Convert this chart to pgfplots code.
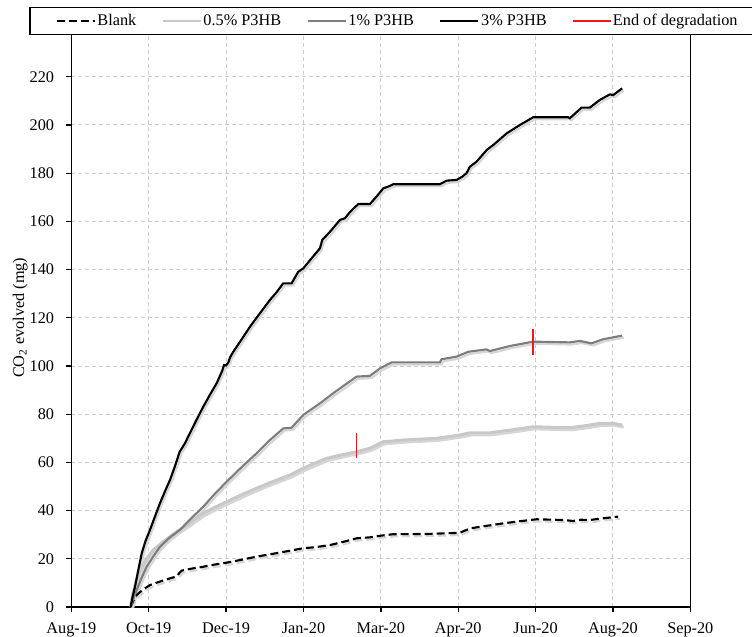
\documentclass[border=0pt]{standalone}
\usepackage{fontspec}
\setmainfont{Liberation Serif}
\usepackage{pgfplots}
\usepackage{pgfplotstable}
\pgfplotsset{compat=1.18}
\definecolor{lg}{RGB}{200,200,200}
\definecolor{mg}{RGB}{125,125,125}
\definecolor{gridc}{RGB}{205,205,205}
\definecolor{shad}{RGB}{214,214,214}
\definecolor{endred}{RGB}{235,25,25}

% x in axis-tick units (0 = Aug-19 tick, 1 = Oct-19 tick, ..., 8 = Sep-20 tick)
\pgfplotstableread{
x y
0.767 0
0.80 2.5
0.845 5
0.93 7.3
1.017 9.1
1.15 10.6
1.275 11.9
1.353 12.6
1.40 14.2
1.426 15.1
1.55 15.9
1.705 16.7
1.85 17.6
2.008 18.4
2.2 19.6
2.395 20.9
2.7 22.6
2.998 24.4
3.15 24.8
3.343 25.7
3.5 26.9
3.687 28.5
3.86 28.9
4.0 29.6
4.16 30.2
4.6 30.3
5.022 30.8
5.151 32.6
5.35 33.6
5.581 34.7
5.8 35.6
6.013 36.4
6.357 36.1
6.486 35.7
6.58 36.2
6.701 36.1
6.873 36.8
7.067 37.5
}\blank

\pgfplotstableread{
x y
0.767 0
0.79 5
0.83 10
0.888 15.4
0.97 20
1.06 23.7
1.17 26.7
1.275 29.2
1.38 31.7
1.49 34
1.6 36.5
1.705 38.9
1.85 41.3
2.008 43.7
2.2 46.6
2.395 49.3
2.6 52
2.826 54.8
2.998 57.6
3.15 59.7
3.30 61.7
3.5 63.2
3.687 64.4
3.859 65.9
4.031 68.6
4.117 68.8
4.29 69.3
4.721 70
5.022 71.4
5.151 72.3
5.41 72.3
5.668 73.4
5.969 74.8
6.2 74.6
6.443 74.4
6.615 75.1
6.83 76.2
7.003 76.2
7.119 75.5
}\halfp

\pgfplotstableread{
x y
0.767 0
0.80 3.5
0.845 7
0.90 11.5
0.974 16.7
1.06 21
1.146 25
1.27 28.8
1.404 32
1.55 36.8
1.705 41.6
1.85 46.8
2.008 52
2.2 58
2.395 63.8
2.55 68.8
2.739 74.1
2.847 74.4
2.998 79.7
3.213 84.5
3.385 88.7
3.55 92.5
3.687 95.6
3.859 95.9
3.988 99
4.14 101.5
4.763 101.5
4.785 102.8
4.98 103.9
5.13 105.9
5.367 106.9
5.41 106.2
5.668 108.3
5.969 110.1
6.443 109.8
6.572 110.4
6.723 109.4
6.873 111.1
7.119 112.6
}\onep

\pgfplotstableread{
x y
0.767 0
0.79 4
0.823 8.4
0.86 14.5
0.91 22.3
0.96 27.5
1.017 32
1.08 37.5
1.145 43
1.21 48
1.275 52.7
1.34 58.5
1.40 64.4
1.47 68
1.53 72
1.62 77.8
1.705 83.1
1.79 88
1.878 92.8
1.95 98
1.973 100.4
2.0 100.2
2.03 101.5
2.05 103.5
2.093 105.9
2.2 111
2.309 116.3
2.438 121.9
2.567 127.4
2.65 130.5
2.739 134.3
2.847 134.3
2.933 139.1
2.998 140.5
3.1 144.5
3.213 148.8
3.243 152.3
3.343 155.7
3.472 160.6
3.536 161.3
3.6 163.8
3.708 167.2
3.859 167.2
3.95 170.5
4.031 173.7
4.117 174.7
4.16 175.4
4.763 175.4
4.85 176.9
4.98 177.2
5.05 178.5
5.108 180
5.151 182.7
5.238 184.8
5.367 189.6
5.453 191.7
5.625 196.5
5.797 200
5.969 203.2
6.421 203.2
6.443 202.8
6.594 207.2
6.701 207.2
6.83 210.4
6.96 212.7
7.003 212.4
7.119 215.2
}\threep

\begin{document}
\begin{tikzpicture}
\useasboundingbox (-53.5pt,-21.75pt) rectangle (510.5pt,455.25pt);
\begin{axis}[
  at={(0pt,0pt)}, anchor=south west,
  scale only axis, width=464.25pt, height=433.8pt,
  xmin=0, xmax=8, ymin=0, ymax=240,
  xtick={0,1,2,3,4,5,6,7,8},
  xticklabels={Aug-19,Oct-19,Dec-19,Jan-20,Mar-20,Apr-20,Jun-20,Aug-20,Sep-20},
  ytick={0,20,40,60,80,100,120,140,160,180,200,220},
  tick align=outside, tick pos=left,
  major tick length=3.75pt,
  every tick/.style={black, line width=1pt},
  axis line style={black, line width=1.2pt},
  grid=major,
  major grid style={gridc, line width=0.75pt, dash pattern=on 3pt off 2.25pt},
  /pgf/number format/assume math mode=true,
  ticklabel style={font=\fontsize{12.2}{14}\selectfont, inner sep=0pt},
  yticklabel style={anchor=east, xshift=-9pt},
  xticklabel style={anchor=north, yshift=-8pt},
  ylabel={CO\textsubscript{2} evolved (mg)},
  every axis y label/.style={at={(axis description cs:-0.070,0.5)}, rotate=90, anchor=south, inner sep=0pt, font=\fontsize{12.2}{14}\selectfont},
  legend columns=-1,
  legend image code/.code={\draw[#1] (0pt,0pt) -- (28.5pt,0pt);},
  legend style={at={(axis description cs:-0.0679,1.0373)}, anchor=north west,
    draw=black, line width=1pt, fill=white,
    font=\fontsize{12.2}{14}\selectfont,
    inner xsep=19.3pt, inner ysep=3.7pt,
    nodes={inner xsep=0pt, inner ysep=0pt, text height=10pt, text depth=2.5pt},
    /tikz/every odd column/.append style={column sep=1.2pt},
    /tikz/every even column/.append style={column sep=19.1pt}},
  shadow/.style={forget plot, shad, xshift=1.2pt, yshift=-1.6pt},
]
\addlegendimage{black, line width=1.6pt, dash pattern=on 6pt off 3pt}
\addlegendentry{Blank}
\addlegendimage{lg, line width=1.6pt}
\addlegendentry{0.5\% P3HB}
\addlegendimage{mg, line width=1.6pt}
\addlegendentry{1\% P3HB}
\addlegendimage{black, line width=1.6pt}
\addlegendentry{3\% P3HB}
\addlegendimage{endred, line width=0.9pt}
\addlegendentry{End of degradation}

% shadows
\addplot[shadow, line width=1.6pt, dash pattern=on 6pt off 3pt] table {\blank};
\addplot[shadow, line width=2.2pt] table {\halfp};
\addplot[shadow, line width=1.6pt] table {\onep};
\addplot[shadow, line width=1.6pt] table {\threep};
% series
\addplot[forget plot, black, line width=1.6pt, dash pattern=on 6pt off 3pt] table {\blank};
\addplot[forget plot, lg, line width=2.2pt] table {\halfp};
\addplot[forget plot, mg, line width=1.6pt] table {\onep};
\addplot[forget plot, black, line width=1.6pt] table {\threep};
% End of degradation marks
\addplot[forget plot, color=endred, line width=1.1pt] coordinates {(5.969,104.6) (5.969,115.2)};
\addplot[forget plot, color=endred, line width=1.1pt] coordinates {(3.687,61.7) (3.687,72.1)};
\end{axis}
\end{tikzpicture}
\end{document}
